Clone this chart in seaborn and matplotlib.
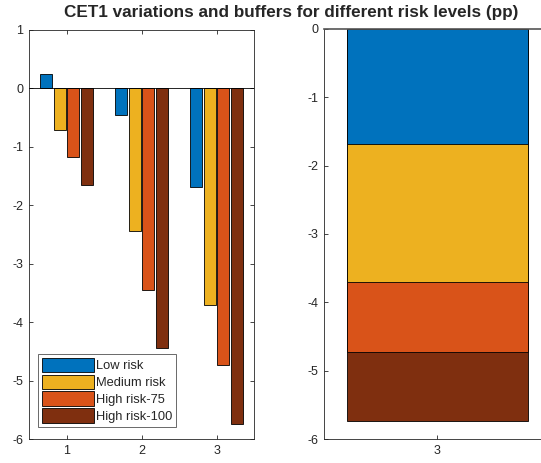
import matplotlib
matplotlib.use("Agg")
import matplotlib.pyplot as plt
import seaborn as sns
import pandas as pd
from matplotlib.patches import Patch

# values (pp)
scenarios = ["1", "2", "3"]
risk_levels = ["Low risk", "Medium risk", "High risk-75", "High risk-100"]
low_risk = [0.25, -0.46, -1.69]
medium_risk = [-0.71, -2.45, -3.71]
high_risk_75 = [-1.18, -3.45, -4.73]
high_risk_100 = [-1.65, -4.44, -5.74]
colors = ["#0072BD", "#EDB120", "#D95319", "#7F2F0F"]

sns.set_theme(style="white")
plt.rcParams["font.family"] = ["Liberation Sans", "DejaVu Sans"]
plt.rcParams["axes.unicode_minus"] = False

df = pd.DataFrame({
    "scenario": scenarios * 4,
    "risk": [r for r in risk_levels for _ in scenarios],
    "value": low_risk + medium_risk + high_risk_75 + high_risk_100,
})
palette = dict(zip(risk_levels, colors))

fig = plt.figure(figsize=(5.41, 4.63), dpi=100)
ax1 = fig.add_axes([0.0536, 0.0518, 0.416, 0.884])
ax2 = fig.add_axes([0.599, 0.0518, 0.418, 0.886])

sns.barplot(data=df, x="scenario", y="value", hue="risk", hue_order=risk_levels,
            palette=palette, width=0.72, gap=0.12, edgecolor="black",
            linewidth=0.6, saturation=1, legend=False, ax=ax1)
ax1.axhline(0, color="black", linewidth=0.6, zorder=3)
ax1.set_xlim(-0.5, 2.5)
ax1.set_ylim(-6, 1)
ax1.set_yticks(range(-6, 2))

# right panel: scenario 3 levels overlaid, deepest first
df3 = df[df["scenario"] == "3"]
sns.barplot(data=df3, x="scenario", y="value", hue="risk",
            hue_order=risk_levels[::-1], palette=palette, dodge=False,
            width=0.8, edgecolor="black", linewidth=0.6, saturation=1,
            legend=False, ax=ax2)
ax2.set_xlim(-0.5, 0.5)
ax2.set_ylim(-6, 0)
ax2.set_yticks(range(-6, 1))

for ax in (ax1, ax2):
    ax.set_xlabel("")
    ax.set_ylabel("")
    for s in ax.spines.values():
        s.set_visible(True)
        s.set_color("#262626")
        s.set_linewidth(0.6)
    ax.tick_params(direction="in", length=3, width=0.6, colors="#262626",
                   labelsize=9, top=True, right=True, bottom=True, left=True,
                   pad=4)

# the right panel runs off the figure edge in the original
ax2.spines["right"].set_visible(False)
ax2.spines["top"].set_color("#555555")
ax2.spines["top"].set_linewidth(1.2)
ax2.tick_params(right=False)

handles = [Patch(facecolor=c, edgecolor="black", linewidth=0.6) for c in colors]
ax1.legend(handles, risk_levels, loc="lower left", bbox_to_anchor=(0.04, 0.03),
           fontsize=9.3, frameon=True, fancybox=False, edgecolor="#262626",
           handlelength=4.0, handleheight=1.35, handletextpad=0.2,
           labelspacing=0.18, borderpad=0.3, borderaxespad=0)
ax1.get_legend().get_frame().set_linewidth(0.6)

fig.text(0.538, 0.99, "CET1 variations and buffers for different risk levels (pp)",
         ha="center", va="top", fontsize=12.3, fontweight="bold")

fig.savefig("out.png", dpi=100)
